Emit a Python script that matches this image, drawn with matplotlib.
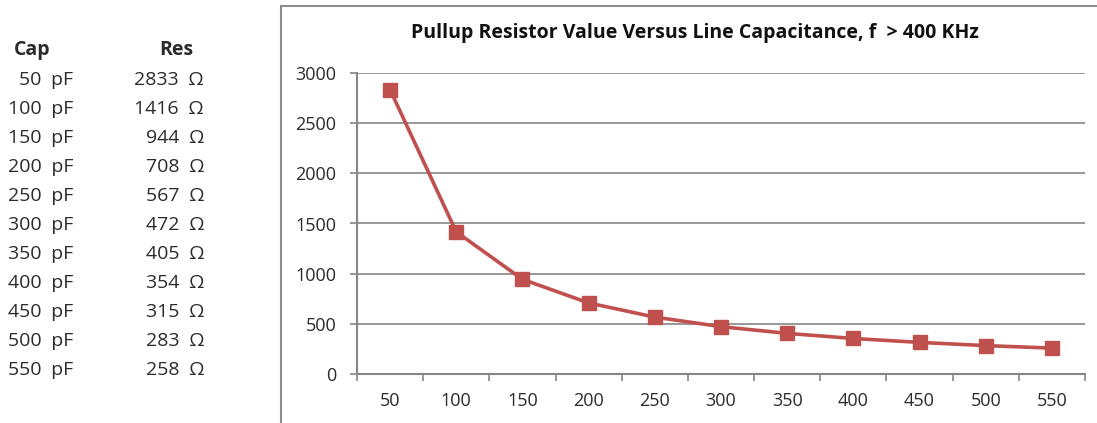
import matplotlib
matplotlib.use("Agg")
import matplotlib.pyplot as plt
import matplotlib.patches as mpatches
import numpy as np

plt.rcParams["font.family"] = ["Open Sans", "DejaVu Sans"]

cap_pf = [50, 100, 150, 200, 250, 300, 350, 400, 450, 500, 550]
res_ohm = [2833, 1416, 944, 708, 567, 472, 405, 354, 315, 283, 258]
y_ticks = [0, 500, 1000, 1500, 2000, 2500, 3000]

RED = "#C0504D"
GRAY = "#868686"
TXT = "#2b2b2b"

W, H = 1097, 423
fig = plt.figure(figsize=(W / 100, H / 100), dpi=100)

# ── left table ────────────────────────────────────────────────────────────────
fig.text(14 / W, 1 - 50 / H, "Cap", fontsize=14, fontweight="bold", color=TXT, va="center")
fig.text(159 / W, 1 - 50 / H, "Res", fontsize=14, fontweight="bold", color=TXT, va="center")
for i, (c, r) in enumerate(zip(cap_pf, res_ohm)):
    yy = 1 - (80 + i * 29) / H
    fig.text(73 / W, yy, f"{c}\u2002pF", fontsize=14, color=TXT, ha="right", va="center")
    fig.text(204 / W, yy, f"{r}\u2002Ω", fontsize=14, color=TXT, ha="right", va="center")

# ── chart frame ───────────────────────────────────────────────────────────────
frame = mpatches.Rectangle((281 / W, -0.05), 1.0, 1 - 6 / H + 0.05,
                           transform=fig.transFigure, fill=False,
                           edgecolor="#8c8c8c", linewidth=1.5)
fig.patches.append(frame)

fig.text(695 / W, 1 - 33 / H, "Pullup Resistor Value Versus Line Capacitance, f  > 400 KHz",
         fontsize=14, fontweight="bold", color="#111111", ha="center", va="center")

# ── plot ──────────────────────────────────────────────────────────────────────
ax = fig.add_axes([357 / W, 1 - 374 / H, (1085 - 357) / W, (374 - 73) / H])
x = np.arange(len(cap_pf))
ax.plot(x, res_ohm, color=RED, linewidth=2.6, marker="s", markersize=10.5,
        markerfacecolor=RED, markeredgecolor=RED, zorder=3)

ax.set_xlim(-0.5, len(cap_pf) - 0.5)
ax.set_ylim(0, 3000)
ax.set_yticks(y_ticks)
ax.set_yticklabels([str(v) for v in y_ticks])
ax.set_xticks(np.arange(len(cap_pf) + 1) - 0.5)
ax.set_xticklabels([])
ax.set_xticks(x, minor=True)
ax.set_xticklabels([str(c) for c in cap_pf], minor=True)
ax.tick_params(axis="x", which="major", length=5, color=GRAY, width=1.2)
ax.tick_params(axis="x", which="minor", length=0, pad=13, labelsize=13, labelcolor=TXT)
ax.tick_params(axis="y", length=5, color=GRAY, width=1.2, pad=10, labelsize=13, labelcolor=TXT)

ax.yaxis.grid(True, color=GRAY, linewidth=1.2)
ax.set_axisbelow(True)
for s in ["top", "right"]:
    ax.spines[s].set_visible(False)
for s in ["left", "bottom"]:
    ax.spines[s].set_color(GRAY)
    ax.spines[s].set_linewidth(1.5)

fig.savefig("out.png", dpi=100)
plt.close()
